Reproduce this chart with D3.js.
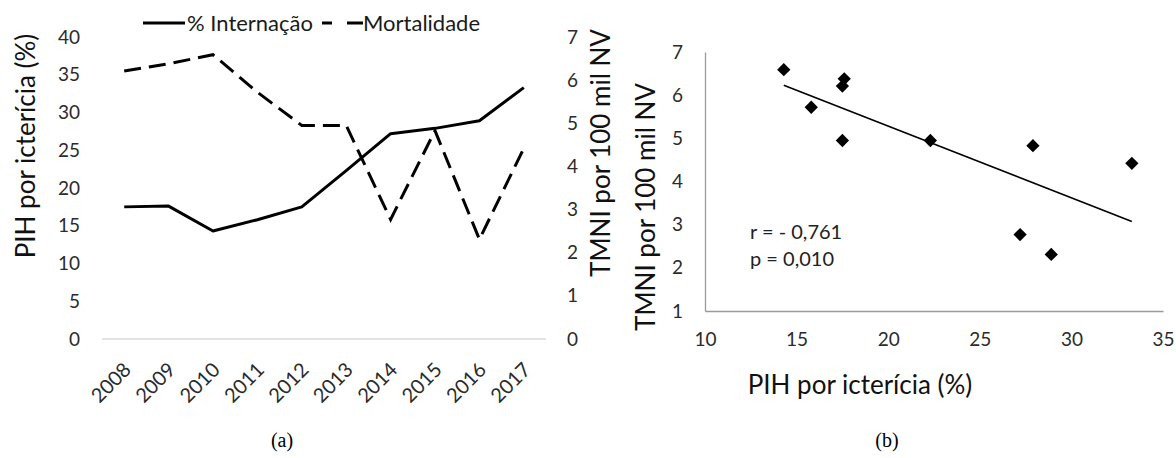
<!DOCTYPE html>
<html>
<head>
<meta charset="utf-8">
<script src="https://cdn.jsdelivr.net/npm/d3@7"></script>
<style>
  html, body { margin: 0; padding: 0; background: #fff; }
  svg { display: block; font-family: Lato, "Open Sans", sans-serif; }
</style>
</head>
<body>
<svg id="chart" width="1176" height="458"></svg>
<script>
// ---- data ----
const years = ["2008","2009","2010","2011","2012","2013","2014","2015","2016","2017"];
const internacao = [17.5, 17.6, 14.3, 15.8, 17.5, 22.3, 27.2, 27.9, 28.9, 33.3];   // % PIH por icterícia
const mortalidade = [6.21, 6.38, 6.59, 5.72, 4.95, 4.95, 2.77, 4.83, 2.31, 4.42];   // TMNI por 100 mil NV
const leftTicks = [0, 5, 10, 15, 20, 25, 30, 35, 40];
const rightTicks = [0, 1, 2, 3, 4, 5, 6, 7];
const scatterXTicks = [10, 15, 20, 25, 30, 35];
const scatterYTicks = [1, 2, 3, 4, 5, 6, 7];
const legendLabels = ["% Internação", "Mortalidade"];
const statLabels = ["r = - 0,761", "p = 0,010"];
const titleLeftY = "PIH por icterícia (%)";
const titleRightY = "TMNI por 100 mil NV";
const titleScatterX = "PIH por icterícia (%)";
const captions = ["(a)", "(b)"];

const svg = d3.select("#chart");
svg.append("rect").attr("width", 1176).attr("height", 458).attr("fill", "#fff");

const tickColor = "#2b2b2b";
const fmt = d3.format("d");

// ================= Chart (a) =================
const x = d3.scaleBand().domain(years).range([102, 546]);
const yL = d3.scaleLinear().domain([0, 40]).range([339, 37]);
const yR = d3.scaleLinear().domain([0, 7]).range([339, 37]);

// baseline
svg.append("line")
  .attr("x1", x.range()[0]).attr("x2", x.range()[1])
  .attr("y1", yL(0)).attr("y2", yL(0))
  .attr("stroke", "#d9d9d9").attr("stroke-width", 1.3);

const axL = svg.append("g").attr("transform", `translate(${x.range()[0]},0)`)
  .call(d3.axisLeft(yL).tickValues(leftTicks).tickFormat(fmt).tickSize(0).tickPadding(22));
axL.select(".domain").remove();
axL.selectAll("text").attr("font-size", 19).attr("fill", tickColor).attr("font-family", "Lato");

const axR = svg.append("g").attr("transform", `translate(${x.range()[1]},0)`)
  .call(d3.axisRight(yR).tickValues(rightTicks).tickFormat(fmt).tickSize(0).tickPadding(21));
axR.select(".domain").remove();
axR.selectAll("text").attr("font-size", 19).attr("fill", tickColor).attr("font-family", "Lato");

const axX = svg.append("g").attr("transform", `translate(0,${yL(0)})`)
  .call(d3.axisBottom(x).tickSize(0));
axX.select(".domain").remove();
axX.selectAll("text")
  .attr("font-size", 20).attr("fill", tickColor).attr("font-family", "Lato")
  .attr("y", 0).attr("dy", "0.36em")
  .attr("text-anchor", "end")
  .attr("transform", "translate(3,27) rotate(-45)");

const cx = (d, i) => x(years[i]) + x.bandwidth() / 2;

const lineL = d3.line().x((d, i) => cx(d, i)).y(d => yL(d));
const lineR = d3.line().x((d, i) => cx(d, i)).y(d => yR(d));

svg.append("path").datum(mortalidade)
  .attr("d", lineR).attr("fill", "none").attr("stroke", "#000")
  .attr("stroke-width", 3).attr("stroke-dasharray", "17,8");

svg.append("path").datum(internacao)
  .attr("d", lineL).attr("fill", "none").attr("stroke", "#000")
  .attr("stroke-width", 3).attr("stroke-linejoin", "round");

// legend
const lg = svg.append("g");
lg.append("line").attr("x1", 143).attr("x2", 185).attr("y1", 23).attr("y2", 23)
  .attr("stroke", "#000").attr("stroke-width", 3);
lg.append("text").attr("x", 187).attr("y", 23).attr("dy", "0.36em")
  .attr("font-size", 22).attr("fill", "#1a1a1a").text(legendLabels[0]);
lg.append("line").attr("x1", 322).attr("x2", 363).attr("y1", 23).attr("y2", 23)
  .attr("stroke", "#000").attr("stroke-width", 3).attr("stroke-dasharray", "10,15,16");
lg.append("text").attr("x", 363).attr("y", 23).attr("dy", "0.36em")
  .attr("font-size", 22).attr("fill", "#1a1a1a").text(legendLabels[1]);

// axis titles
svg.append("text")
  .attr("transform", `translate(35,146) rotate(-90)`)
  .attr("text-anchor", "middle").attr("font-size", 26).attr("fill", "#111")
  .text(titleLeftY);
svg.append("text")
  .attr("transform", `translate(610,153) rotate(-90)`)
  .attr("text-anchor", "middle").attr("font-size", 26).attr("fill", "#111")
  .text(titleRightY);

// ================= Chart (b) =================
const sx = d3.scaleLinear().domain([10, 35]).range([705, 1163]);
const sy = d3.scaleLinear().domain([1, 7]).range([311, 52]);

const axSY = svg.append("g").attr("transform", `translate(${sx(10)},0)`)
  .call(d3.axisLeft(sy).tickValues(scatterYTicks).tickFormat(fmt).tickSize(0).tickPadding(22));
axSY.select(".domain").attr("stroke", "#9a9a9a").attr("stroke-width", 1.3);
axSY.selectAll("text").attr("font-size", 19).attr("fill", tickColor).attr("font-family", "Lato");

const axSX = svg.append("g").attr("transform", `translate(0,${sy(1)})`)
  .call(d3.axisBottom(sx).tickValues(scatterXTicks).tickFormat(fmt).tickSize(0).tickPadding(22));
axSX.select(".domain").attr("stroke", "#9a9a9a").attr("stroke-width", 1.3);
axSX.selectAll("text").attr("font-size", 19).attr("fill", tickColor).attr("font-family", "Lato");

// trend line (least squares from the data)
const mx = d3.mean(internacao), my = d3.mean(mortalidade);
let sxy = 0, sxx = 0;
internacao.forEach((v, i) => { sxy += (v - mx) * (mortalidade[i] - my); sxx += (v - mx) * (v - mx); });
const slope = sxy / sxx, icpt = my - slope * mx;
const [xmin, xmax] = d3.extent(internacao);
svg.append("line")
  .attr("x1", sx(xmin)).attr("y1", sy(icpt + slope * xmin))
  .attr("x2", sx(xmax)).attr("y2", sy(icpt + slope * xmax))
  .attr("stroke", "#000").attr("stroke-width", 1.6);

const diamond = d3.symbol(d3.symbolSquare, 88);
svg.append("g").selectAll("path")
  .data(internacao.map((v, i) => [v, mortalidade[i]]))
  .join("path")
  .attr("d", diamond)
  .attr("transform", d => `translate(${sx(d[0])},${sy(d[1])}) rotate(45)`)
  .attr("fill", "#000");

svg.append("text").attr("x", 750).attr("y", 232).attr("dy", "0.36em")
  .attr("font-size", 20).attr("fill", "#222").text(statLabels[0]);
svg.append("text").attr("x", 750).attr("y", 259).attr("dy", "0.36em")
  .attr("font-size", 20).attr("fill", "#222").text(statLabels[1]);

svg.append("text")
  .attr("transform", `translate(655,207) rotate(-90)`)
  .attr("text-anchor", "middle").attr("font-size", 26).attr("fill", "#111")
  .text(titleRightY);
svg.append("text")
  .attr("x", 860).attr("y", 385).attr("dy", "0.36em")
  .attr("text-anchor", "middle").attr("font-size", 26).attr("fill", "#111")
  .text(titleScatterX);

// captions
svg.append("text").attr("x", 282).attr("y", 440).attr("dy", "0.35em")
  .attr("text-anchor", "middle").attr("font-family", "'Liberation Serif', 'DejaVu Serif', serif")
  .attr("font-size", 20).attr("fill", "#000").text(captions[0]);
svg.append("text").attr("x", 887).attr("y", 440).attr("dy", "0.35em")
  .attr("text-anchor", "middle").attr("font-family", "'Liberation Serif', 'DejaVu Serif', serif")
  .attr("font-size", 20).attr("fill", "#000").text(captions[1]);
</script>
</body>
</html>
